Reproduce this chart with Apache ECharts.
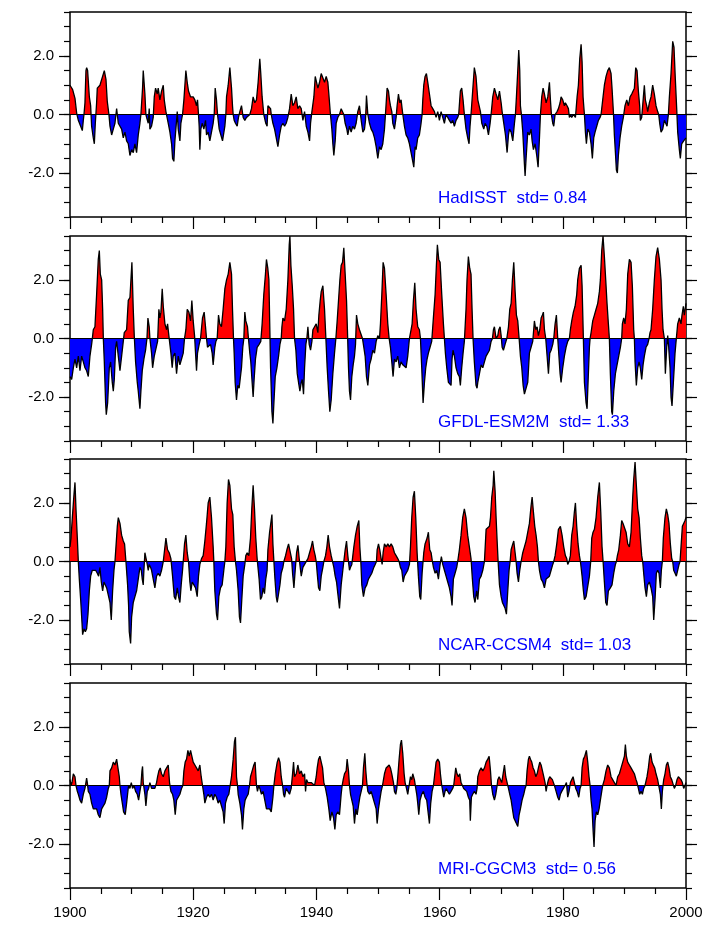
<!DOCTYPE html>
<html>
<head>
<meta charset="utf-8">
<script src="https://cdn.jsdelivr.net/npm/echarts@6/dist/echarts.min.js"></script>
<style>
html, body { margin: 0; padding: 0; background: #fff; }
#main { width: 708px; height: 930px; }
</style>
</head>
<body>
<div id="main"></div>
<script>
// anomaly series, [year, value]
var hadisst = [
[1900.00,1.0],[1900.43,0.85],[1900.81,0.55],[1901.08,0.05],[1901.35,-0.2],[1901.73,-0.4],[1902.00,-0.55],[1902.16,-0.2],[1902.27,0.0],[1902.43,0.4],
[1902.59,1.5],[1902.70,1.6],[1902.86,1.5],[1903.14,0.6],[1903.35,0.3],[1903.51,-0.4],[1903.78,-0.8],[1903.95,-1.0],[1904.11,-0.3],[1904.32,0.4],
[1904.43,0.9],[1904.86,1.0],[1905.57,1.5],[1905.84,1.2],[1906.05,0.45],[1906.32,0.0],[1906.49,-0.4],[1906.76,-0.7],[1907.03,-0.5],[1907.30,-0.3],
[1907.57,0.2],[1907.84,-0.3],[1908.38,-0.5],[1908.65,-0.8],[1908.92,-0.6],[1909.19,-0.9],[1909.46,-1.0],[1909.73,-1.4],[1910.00,-1.2],[1910.27,-1.3],
[1910.54,-1.0],[1910.81,-1.3],[1911.08,-0.7],[1911.35,-0.3],[1911.51,0.0],[1911.78,0.9],[1911.89,1.5],[1912.16,0.7],[1912.32,0.0],[1912.43,-0.1],
[1912.70,-0.3],[1912.86,0.2],[1912.97,-0.5],[1913.24,-0.4],[1913.51,-0.1],[1913.68,0.6],[1913.89,0.9],[1914.16,0.7],[1914.32,0.9],[1914.59,0.5],
[1914.86,0.8],[1915.14,1.0],[1915.30,0.5],[1915.57,0.1],[1915.95,-0.3],[1916.22,-0.6],[1916.49,-1.0],[1916.65,-1.5],[1916.86,-1.6],[1917.03,-0.9],
[1917.30,-0.2],[1917.41,0.1],[1917.57,-0.5],[1917.84,-0.9],[1918.00,-0.3],[1918.27,0.0],[1918.49,0.5],[1918.65,1.0],[1918.81,1.5],[1919.03,1.1],
[1919.24,0.8],[1919.57,0.6],[1920.00,0.6],[1920.27,0.5],[1920.54,0.3],[1920.70,0.5],[1920.86,0.0],[1920.97,-0.4],[1921.08,-1.2],[1921.24,-0.5],
[1921.46,-0.3],[1921.73,-0.5],[1922.00,-0.2],[1922.16,-0.7],[1922.43,-0.6],[1922.70,-0.9],[1922.97,-0.6],[1923.24,-0.3],[1923.41,0.0],[1923.57,0.9],
[1923.78,0.5],[1923.95,0.0],[1924.22,-0.5],[1924.49,-0.7],[1924.76,-0.9],[1924.97,-0.9],[1925.14,-0.4],[1925.30,0.0],[1925.41,0.6],[1925.68,1.0],
[1925.95,1.6],[1926.22,0.9],[1926.38,0.3],[1926.49,0.0],[1926.65,-0.2],[1926.86,-0.3],[1927.14,-0.4],[1927.35,-0.1],[1927.57,0.1],[1927.84,0.3],
[1928.11,-0.1],[1928.38,-0.2],[1928.65,-0.1],[1928.92,-0.05],[1929.19,0.0],[1929.46,0.2],[1929.73,0.6],[1930.00,0.4],[1930.27,0.5],[1930.54,1.1],
[1930.81,1.9],[1930.97,1.4],[1931.19,0.6],[1931.46,0.0],[1931.78,-0.3],[1932.00,-0.4],[1932.13,0.3],[1932.56,0.2],[1932.67,0.0],[1932.94,-0.3],
[1933.21,-0.5],[1933.48,-0.8],[1933.75,-1.1],[1934.02,-0.7],[1934.29,-0.4],[1934.56,-0.3],[1934.83,-0.4],[1935.10,-0.3],[1935.37,-0.1],[1935.64,0.2],
[1935.91,0.7],[1936.18,0.3],[1936.45,0.4],[1936.72,0.6],[1936.99,0.2],[1937.27,0.3],[1937.54,0.2],[1937.81,-0.2],[1938.08,0.1],[1938.35,-0.4],
[1938.62,-0.6],[1938.89,-0.9],[1939.05,-0.3],[1939.27,0.1],[1939.59,0.6],[1939.81,1.3],[1940.24,0.9],[1940.51,1.1],[1940.78,1.4],[1941.05,1.4],
[1941.32,1.1],[1941.59,1.3],[1941.86,1.1],[1942.02,0.7],[1942.24,0.1],[1942.51,-0.5],[1942.67,-1.0],[1942.83,-1.4],[1943.05,-0.9],[1943.21,-0.3],
[1943.48,-0.1],[1943.75,0.0],[1944.02,0.2],[1944.29,0.2],[1944.45,0.0],[1944.67,-0.3],[1944.94,-0.5],[1945.10,-0.7],[1945.37,-0.4],[1945.64,-0.6],
[1945.91,-0.4],[1946.18,-0.5],[1946.45,-0.3],[1946.72,0.1],[1946.99,0.3],[1947.27,-0.2],[1947.54,-0.6],[1947.81,-0.5],[1947.97,-0.2],[1948.13,0.65],
[1948.35,0.0],[1948.62,-0.3],[1948.89,-0.5],[1949.16,-0.6],[1949.43,-0.8],[1949.70,-1.1],[1949.97,-1.5],[1950.24,-1.1],[1950.51,-1.2],[1950.78,-1.0],
[1951.05,-0.5],[1951.21,0.0],[1951.48,0.9],[1951.70,0.8],[1951.86,0.5],[1952.02,0.3],[1952.24,0.1],[1952.40,-0.3],[1952.67,-0.5],[1952.94,-0.1],
[1953.10,0.3],[1953.32,0.7],[1953.54,0.4],[1953.75,0.5],[1953.97,0.1],[1954.29,-0.4],[1954.56,-0.7],[1954.83,-0.8],[1955.10,-1.0],[1955.37,-1.3],
[1955.64,-1.6],[1955.81,-1.8],[1956.02,-1.1],[1956.18,-1.2],[1956.45,-0.8],[1956.72,-0.7],[1956.99,-0.3],[1957.16,0.0],[1957.27,0.5],[1957.43,1.0],
[1957.64,1.3],[1957.86,1.4],[1958.08,1.1],[1958.35,0.7],[1958.62,0.3],[1958.89,0.2],[1959.16,0.1],[1959.43,-0.1],[1959.70,0.1],[1959.97,-0.2],
[1960.24,0.1],[1960.51,-0.1],[1960.78,-0.3],[1961.05,0.0],[1961.32,-0.1],[1961.59,-0.2],[1961.86,-0.3],[1962.13,-0.2],[1962.40,-0.4],[1962.67,-0.2],
[1962.94,-0.1],[1963.10,0.0],[1963.37,0.8],[1963.59,0.9],[1963.81,0.5],[1964.02,0.0],[1964.29,-0.5],[1964.56,-0.8],[1964.78,-1.0],[1964.94,-0.4],
[1965.10,0.0],[1965.37,0.8],[1965.64,1.6],[1965.91,1.3],[1966.20,0.5],[1966.63,0.1],[1966.85,-0.3],[1967.17,-0.5],[1967.39,-0.3],[1967.66,-0.4],
[1967.93,-0.7],[1968.20,-0.3],[1968.36,0.0],[1968.63,0.6],[1968.90,0.9],[1969.17,0.7],[1969.45,0.5],[1969.72,0.8],[1969.99,0.4],[1970.15,0.1],
[1970.42,-0.3],[1970.69,-0.7],[1970.96,-1.3],[1971.18,-0.7],[1971.34,-0.5],[1971.61,-0.6],[1971.88,-0.9],[1972.15,-0.3],[1972.31,0.0],[1972.47,0.6],
[1972.69,1.5],[1972.85,2.2],[1973.01,1.5],[1973.12,0.3],[1973.28,0.0],[1973.50,-0.6],[1973.77,-1.7],[1973.88,-2.1],[1974.04,-1.5],[1974.31,-0.6],
[1974.58,-0.7],[1974.85,-0.5],[1975.02,-0.9],[1975.23,-1.2],[1975.50,-1.0],[1975.77,-1.4],[1975.99,-1.8],[1976.21,-0.8],[1976.37,0.0],[1976.58,0.6],
[1976.80,0.9],[1977.02,0.7],[1977.29,0.4],[1977.56,0.6],[1977.83,1.1],[1977.99,0.5],[1978.15,0.0],[1978.37,-0.3],[1978.53,-0.4],[1978.75,0.0],
[1979.07,0.1],[1979.29,0.2],[1979.56,0.4],[1979.72,0.6],[1979.99,0.5],[1980.26,0.3],[1980.42,0.4],[1980.69,0.3],[1980.91,0.2],[1981.07,-0.1],
[1981.23,0.0],[1981.45,-0.1],[1981.72,0.0],[1981.88,0.0],[1982.05,-0.1],[1982.32,0.6],[1982.53,1.0],[1982.75,1.9],[1982.97,2.4],[1983.13,1.8],
[1983.29,0.6],[1983.51,0.0],[1983.67,-0.6],[1983.83,-1.0],[1984.05,-0.5],[1984.32,-0.6],[1984.59,-1.0],[1984.80,-1.5],[1985.02,-0.8],[1985.24,-0.6],
[1985.51,-0.4],[1985.78,-0.2],[1986.05,-0.1],[1986.21,0.0],[1986.48,0.5],[1986.75,1.0],[1987.02,1.3],[1987.29,1.5],[1987.56,1.6],[1987.83,1.4],
[1987.99,0.9],[1988.21,0.1],[1988.37,-0.7],[1988.54,-1.3],[1988.70,-1.9],[1988.86,-2.0],[1989.02,-1.4],[1989.29,-0.8],[1989.56,-0.4],[1989.83,-0.1],
[1990.10,0.3],[1990.38,0.5],[1990.65,0.3],[1990.92,0.6],[1991.19,0.7],[1991.40,0.7],[1991.62,0.9],[1991.84,1.6],[1992.05,1.5],[1992.27,0.8],
[1992.48,0.3],[1992.59,-0.2],[1992.81,-0.1],[1993.08,0.6],[1993.24,1.0],[1993.40,0.5],[1993.62,0.3],[1993.78,0.1],[1994.05,0.4],[1994.32,0.6],
[1994.59,1.0],[1994.86,0.7],[1995.13,0.3],[1995.40,0.1],[1995.57,0.0],[1995.73,-0.3],[1995.95,-0.6],[1996.22,-0.5],[1996.49,-0.2],[1996.76,-0.2],
[1996.92,-0.4],[1997.14,0.0],[1997.30,0.6],[1997.57,1.4],[1997.84,2.5],[1998.05,2.3],[1998.27,1.2],[1998.49,0.2],[1998.65,-0.6],[1998.92,-1.2],
[1999.08,-1.5],[1999.30,-1.0],[1999.62,-0.9],[1999.84,-0.9],[2000.00,-0.8]
];

var gfdl = [
[1900.00,-1.3],[1900.27,-1.4],[1900.54,-1.0],[1900.81,-0.7],[1901.08,-1.0],[1901.35,-0.6],[1901.62,-1.1],[1901.89,-0.6],[1902.16,-0.8],[1902.43,-1.0],
[1902.70,-1.1],[1902.97,-1.3],[1903.24,-0.6],[1903.51,-0.2],[1903.68,0.1],[1903.78,0.3],[1904.05,0.4],[1904.32,1.5],[1904.59,2.7],[1904.76,3.0],
[1904.92,2.2],[1905.14,2.0],[1905.30,1.0],[1905.41,0.0],[1905.57,-0.8],[1905.78,-2.2],[1905.89,-2.6],[1906.11,-2.2],[1906.38,-1.0],[1906.59,-0.8],
[1906.86,-1.5],[1907.03,-1.8],[1907.19,-1.4],[1907.41,-0.3],[1907.57,-0.1],[1907.84,-0.6],[1908.11,-1.1],[1908.38,-0.6],[1908.65,-0.1],[1908.81,0.2],
[1909.19,0.3],[1909.46,1.3],[1909.73,1.4],[1909.89,2.0],[1910.05,2.6],[1910.27,1.0],[1910.43,0.1],[1910.65,-0.8],[1910.92,-1.5],[1911.08,-1.8],
[1911.35,-2.4],[1911.51,-1.8],[1911.73,-1.1],[1912.00,-0.7],[1912.27,-0.4],[1912.49,0.0],[1912.65,0.7],[1912.86,0.4],[1912.97,0.0],[1913.24,-0.5],
[1913.41,-1.0],[1913.68,-0.6],[1913.95,-0.6],[1914.22,-0.1],[1914.43,1.0],[1914.59,0.7],[1914.76,0.9],[1914.97,1.7],[1915.14,1.1],[1915.41,0.5],
[1915.68,0.3],[1915.84,0.5],[1916.05,0.1],[1916.38,-0.5],[1916.59,-1.0],[1916.76,-0.6],[1917.03,-0.5],[1917.30,-1.2],[1917.57,-0.6],[1917.84,-0.9],
[1918.11,-0.7],[1918.38,-0.5],[1918.59,0.0],[1918.81,0.3],[1919.03,1.0],[1919.30,0.9],[1919.57,0.6],[1919.78,1.3],[1920.00,0.6],[1920.22,0.1],
[1920.38,-0.5],[1920.54,-1.1],[1920.70,-0.5],[1920.97,-0.2],[1921.19,0.0],[1921.51,0.7],[1921.78,0.9],[1922.00,0.4],[1922.16,0.0],[1922.32,-0.3],
[1922.54,-0.3],[1922.81,-0.2],[1923.08,-0.5],[1923.24,-0.9],[1923.51,-0.3],[1923.68,-0.1],[1923.89,0.0],[1924.11,0.8],[1924.32,0.5],[1924.59,0.4],
[1924.86,1.0],[1925.14,1.7],[1925.41,2.0],[1925.68,2.2],[1925.95,2.6],[1926.22,2.2],[1926.38,1.0],[1926.54,0.0],[1926.65,-0.5],[1926.81,-1.5],
[1927.03,-2.1],[1927.24,-1.6],[1927.46,-1.7],[1927.62,-1.4],[1927.84,-1.0],[1928.05,-0.3],[1928.22,0.0],[1928.38,0.9],[1928.54,0.6],[1928.81,0.4],
[1928.97,0.0],[1929.19,-0.5],[1929.35,-0.8],[1929.57,-1.5],[1929.73,-2.0],[1929.89,-1.4],[1930.11,-0.7],[1930.38,-0.3],[1930.70,-0.2],[1930.97,-0.1],
[1931.19,0.5],[1931.46,1.5],[1931.73,2.2],[1931.89,2.7],[1932.11,2.4],[1932.29,2.0],[1932.56,-1.0],[1932.78,-2.5],[1932.94,-2.9],[1933.10,-2.2],
[1933.32,-1.3],[1933.59,-1.0],[1933.86,-0.6],[1934.08,-0.2],[1934.29,0.0],[1934.40,0.4],[1934.56,0.7],[1934.83,0.6],[1935.10,1.0],[1935.37,2.0],
[1935.59,3.2],[1935.70,3.5],[1935.86,2.5],[1936.08,1.8],[1936.29,1.0],[1936.45,0.0],[1936.67,-0.4],[1936.89,-1.2],[1937.10,-1.5],[1937.32,-1.8],
[1937.54,-1.5],[1937.70,-1.4],[1937.91,-1.9],[1938.08,-1.0],[1938.29,-0.2],[1938.45,0.0],[1938.62,0.4],[1938.83,-0.2],[1939.05,-0.4],[1939.27,-0.1],
[1939.43,0.3],[1939.70,0.4],[1939.97,0.5],[1940.24,0.2],[1940.40,0.8],[1940.62,1.3],[1940.78,1.6],[1941.05,1.8],[1941.32,1.0],[1941.54,0.0],
[1941.75,-1.0],[1941.97,-1.8],[1942.18,-2.5],[1942.40,-2.1],[1942.67,-1.2],[1942.94,-0.5],[1943.16,0.0],[1943.37,0.6],[1943.59,1.3],[1943.81,2.0],
[1944.02,2.5],[1944.24,2.6],[1944.45,3.1],[1944.67,2.2],[1944.89,1.3],[1945.05,0.2],[1945.21,-1.0],[1945.37,-1.8],[1945.54,-2.1],[1945.75,-1.3],
[1945.97,-0.9],[1946.18,-0.6],[1946.35,-0.2],[1946.51,0.8],[1946.72,0.5],[1946.99,0.3],[1947.27,0.3],[1947.48,0.0],[1947.70,-0.3],[1947.91,-0.6],
[1948.13,-1.3],[1948.35,-1.6],[1948.62,-0.9],[1948.89,-0.7],[1949.16,-0.4],[1949.43,-0.5],[1949.70,-0.1],[1949.97,0.1],[1950.24,0.0],[1950.40,0.5],
[1950.62,1.5],[1950.83,2.6],[1951.05,2.4],[1951.32,1.5],[1951.59,0.5],[1951.81,0.0],[1952.02,-0.3],[1952.24,-0.8],[1952.45,-1.3],[1952.67,-0.7],
[1952.94,-0.8],[1953.21,-0.6],[1953.48,-1.0],[1953.75,-0.8],[1954.02,-0.9],[1954.29,-0.9],[1954.56,-1.0],[1954.83,-0.6],[1955.10,0.0],[1955.37,0.3],
[1955.54,0.5],[1955.75,1.3],[1955.97,1.9],[1956.18,1.0],[1956.45,0.4],[1956.72,0.3],[1956.89,0.0],[1957.10,-1.0],[1957.32,-2.2],[1957.54,-1.5],
[1957.75,-1.0],[1957.97,-0.7],[1958.18,-0.5],[1958.45,-0.3],[1958.72,-0.1],[1958.99,0.7],[1959.27,1.5],[1959.48,2.5],[1959.64,3.2],[1959.86,2.7],
[1960.08,2.6],[1960.35,1.5],[1960.62,0.5],[1960.78,0.0],[1960.94,-0.5],[1961.16,-1.0],[1961.43,-1.5],[1961.64,-1.5],[1961.86,-1.6],[1962.02,-0.7],
[1962.18,-0.4],[1962.40,-0.6],[1962.67,-1.0],[1962.94,-1.2],[1963.21,-1.3],[1963.37,-1.6],[1963.59,-1.0],[1963.81,-0.5],[1964.02,-0.1],[1964.29,1.0],
[1964.45,2.0],[1964.67,2.8],[1964.89,2.4],[1965.10,2.2],[1965.27,1.0],[1965.43,0.0],[1965.64,-0.8],[1965.91,-1.6],[1966.08,-1.7],[1966.20,-1.5],
[1966.47,-1.2],[1966.74,-0.9],[1967.01,-1.0],[1967.28,-0.8],[1967.55,-0.6],[1967.82,-0.6],[1968.09,-0.4],[1968.36,-0.1],[1968.58,0.0],[1968.74,0.3],
[1968.90,0.4],[1969.17,0.0],[1969.45,0.1],[1969.61,0.3],[1969.82,0.4],[1969.99,0.1],[1970.15,-0.3],[1970.36,-0.4],[1970.63,-0.2],[1970.91,0.0],
[1971.18,0.4],[1971.39,1.0],[1971.61,1.2],[1971.82,2.0],[1972.04,2.6],[1972.26,1.6],[1972.47,0.8],[1972.69,0.6],[1972.91,0.0],[1973.12,-0.6],
[1973.34,-1.0],[1973.56,-1.6],[1973.77,-1.9],[1974.04,-1.9],[1974.31,-1.5],[1974.58,-0.5],[1974.85,-0.3],[1975.12,-0.1],[1975.39,0.6],[1975.61,0.3],
[1975.83,0.4],[1976.04,0.1],[1976.26,0.3],[1976.48,0.7],[1976.69,0.8],[1976.85,0.9],[1977.02,0.3],[1977.23,0.0],[1977.45,-0.6],[1977.67,-1.2],
[1977.88,-0.5],[1978.10,-0.4],[1978.37,-0.2],[1978.53,0.0],[1978.75,0.5],[1978.96,0.8],[1979.18,0.0],[1979.34,-0.5],[1979.56,-1.2],[1979.72,-1.5],
[1979.99,-1.0],[1980.26,-0.6],[1980.53,-0.3],[1980.80,-0.1],[1981.07,0.0],[1981.23,0.3],[1981.45,0.6],[1981.72,0.9],[1981.99,1.1],[1982.26,1.5],
[1982.42,2.0],[1982.70,2.4],[1982.97,2.5],[1983.13,1.8],[1983.34,0.0],[1983.51,-1.5],[1983.78,-2.2],[1983.94,-2.4],[1984.10,-1.5],[1984.32,-0.3],
[1984.43,0.0],[1984.59,0.2],[1984.86,0.6],[1985.13,0.8],[1985.40,1.0],[1985.67,1.2],[1985.94,1.6],[1986.10,2.0],[1986.32,3.0],[1986.53,3.5],
[1986.75,2.8],[1986.97,2.0],[1987.18,1.2],[1987.40,0.5],[1987.56,0.0],[1987.72,-1.2],[1987.94,-2.5],[1988.05,-2.6],[1988.27,-1.8],[1988.54,-1.2],
[1988.81,-0.9],[1989.08,-0.6],[1989.35,-0.3],[1989.56,0.0],[1989.67,0.5],[1989.89,0.7],[1990.10,0.5],[1990.32,1.0],[1990.54,2.2],[1990.81,2.7],
[1991.08,2.6],[1991.29,1.8],[1991.51,0.3],[1991.62,0.0],[1991.73,-0.8],[1991.94,-1.6],[1992.16,-1.0],[1992.38,-0.8],[1992.59,-1.0],[1992.81,-1.4],
[1993.03,-0.9],[1993.24,-0.6],[1993.51,-0.3],[1993.78,-0.2],[1994.00,0.0],[1994.16,0.2],[1994.32,0.3],[1994.59,1.0],[1994.86,2.0],[1995.13,2.8],
[1995.40,3.1],[1995.68,2.7],[1995.95,2.0],[1996.11,1.0],[1996.27,0.3],[1996.49,0.0],[1996.65,-1.2],[1996.87,-0.3],[1997.03,0.1],[1997.19,-0.3],
[1997.41,-1.0],[1997.57,-2.0],[1997.73,-2.3],[1997.95,-1.5],[1998.22,-0.5],[1998.43,0.0],[1998.65,0.5],[1998.92,0.7],[1999.19,0.5],[1999.35,0.8],
[1999.57,1.1],[1999.73,0.8],[2000.00,1.2]
];

var ncar = [
[1900.00,0.5],[1900.16,0.8],[1900.38,1.5],[1900.65,2.3],[1900.81,2.7],[1900.97,1.8],[1901.19,0.8],[1901.35,0.0],[1901.51,-0.6],[1901.73,-1.3],
[1901.95,-2.1],[1902.05,-2.5],[1902.27,-2.3],[1902.49,-2.4],[1902.70,-2.3],[1902.92,-1.8],[1903.14,-1.0],[1903.35,-0.5],[1903.62,-0.3],[1903.89,-0.3],
[1904.16,-0.3],[1904.43,-0.4],[1904.65,-0.5],[1904.86,-0.2],[1905.08,-0.7],[1905.30,-1.0],[1905.51,-0.7],[1905.73,-0.8],[1905.95,-0.9],[1906.22,-0.9],
[1906.49,-1.4],[1906.70,-2.0],[1906.92,-1.0],[1907.14,-0.3],[1907.30,0.0],[1907.46,0.5],[1907.68,1.2],[1907.84,1.5],[1908.11,1.3],[1908.38,0.9],
[1908.65,0.7],[1908.86,0.6],[1909.08,0.0],[1909.35,-0.8],[1909.51,-1.5],[1909.62,-2.4],[1909.84,-2.8],[1910.00,-1.9],[1910.27,-1.4],[1910.54,-1.2],
[1910.81,-1.0],[1911.08,-0.6],[1911.35,-0.2],[1911.57,-0.3],[1911.73,-0.6],[1911.89,-0.8],[1912.00,-0.3],[1912.16,0.3],[1912.32,0.3],[1912.54,-0.1],
[1912.70,-0.3],[1912.86,-0.1],[1913.08,-0.2],[1913.24,-0.3],[1913.51,-0.6],[1913.78,-0.9],[1914.05,-0.5],[1914.32,-0.4],[1914.59,-0.5],[1914.86,-0.3],
[1915.14,0.0],[1915.41,0.5],[1915.57,0.8],[1915.84,0.4],[1916.11,0.3],[1916.38,0.1],[1916.65,-0.5],[1916.92,-1.2],[1917.14,-1.3],[1917.41,-0.9],
[1917.62,-1.2],[1917.84,-1.4],[1918.05,-0.8],[1918.27,-0.3],[1918.38,0.0],[1918.59,0.6],[1918.81,0.9],[1919.03,0.3],[1919.24,0.0],[1919.46,-0.7],
[1919.62,-1.0],[1919.84,-0.7],[1920.11,-0.8],[1920.38,-0.9],[1920.65,-1.2],[1920.86,-0.5],[1921.08,-0.1],[1921.35,0.1],[1921.62,0.2],[1921.89,0.7],
[1922.16,1.3],[1922.43,2.0],[1922.70,2.2],[1922.97,1.5],[1923.24,0.5],[1923.35,0.0],[1923.51,-1.0],[1923.78,-1.8],[1923.95,-2.0],[1924.16,-1.2],
[1924.43,-0.9],[1924.70,-0.8],[1924.97,-0.3],[1925.14,0.0],[1925.30,0.5],[1925.51,2.0],[1925.73,2.8],[1925.95,2.6],[1926.22,1.8],[1926.43,1.6],
[1926.65,0.5],[1926.86,0.0],[1927.03,-0.3],[1927.30,-1.0],[1927.51,-1.9],[1927.68,-2.1],[1927.89,-1.3],[1928.11,-0.5],[1928.38,-0.1],[1928.54,0.2],
[1928.76,0.3],[1929.03,0.2],[1929.30,0.8],[1929.51,1.8],[1929.73,2.6],[1929.95,1.8],[1930.16,0.8],[1930.38,0.1],[1930.70,-0.6],[1930.92,-1.3],
[1931.14,-1.2],[1931.35,-0.9],[1931.57,-1.1],[1931.78,-0.6],[1932.00,-0.3],[1932.13,0.4],[1932.40,1.0],[1932.78,1.6],[1932.94,0.6],[1933.10,0.0],
[1933.27,-0.6],[1933.48,-1.2],[1933.64,-1.4],[1933.86,-1.4],[1934.08,-0.8],[1934.29,-0.4],[1934.56,-0.2],[1934.72,0.0],[1934.99,0.2],[1935.21,0.4],
[1935.48,0.6],[1935.75,0.6],[1935.97,0.1],[1936.13,-0.4],[1936.35,-0.9],[1936.56,-0.3],[1936.78,0.3],[1937.00,0.55],[1937.21,0.1],[1937.37,-0.2],
[1937.54,-0.5],[1937.81,-0.2],[1938.08,-0.1],[1938.35,-0.1],[1938.62,0.1],[1938.89,0.3],[1939.16,0.5],[1939.37,0.7],[1939.59,0.4],[1939.81,0.2],
[1939.97,0.0],[1940.13,-0.4],[1940.35,-0.9],[1940.56,-1.0],[1940.78,-0.5],[1941.05,-0.2],[1941.21,0.0],[1941.48,0.2],[1941.70,0.5],[1941.91,0.9],
[1942.13,0.5],[1942.40,0.2],[1942.62,0.0],[1942.83,-0.2],[1943.05,-0.5],[1943.27,-0.7],[1943.48,-1.1],[1943.75,-1.6],[1944.02,-0.8],[1944.29,-0.3],
[1944.45,0.0],[1944.67,0.4],[1944.89,0.7],[1945.10,0.2],[1945.37,-0.3],[1945.54,-0.2],[1945.75,-0.1],[1946.08,0.5],[1946.35,0.9],[1946.62,1.2],
[1946.89,1.4],[1947.05,0.5],[1947.21,0.0],[1947.37,-0.8],[1947.64,-1.2],[1947.91,-0.9],[1948.18,-0.8],[1948.45,-0.6],[1948.72,-0.6],[1948.99,-0.4],
[1949.32,-0.2],[1949.54,-0.1],[1949.75,0.0],[1949.86,0.4],[1950.08,0.6],[1950.29,0.4],[1950.51,0.1],[1950.67,-0.1],[1950.83,0.3],[1951.05,0.6],
[1951.32,0.5],[1951.59,0.6],[1951.86,0.5],[1952.13,0.6],[1952.40,0.5],[1952.67,0.3],[1952.94,0.2],[1953.21,0.1],[1953.43,0.0],[1953.64,-0.2],
[1953.86,-0.3],[1954.08,-0.7],[1954.29,-0.5],[1954.56,-0.4],[1954.83,-0.3],[1955.10,-0.1],[1955.27,0.5],[1955.48,1.5],[1955.70,2.2],[1955.91,2.4],
[1956.13,1.5],[1956.35,0.3],[1956.56,-0.5],[1956.78,-1.2],[1956.94,-1.3],[1957.16,-0.4],[1957.43,0.3],[1957.64,0.6],[1957.97,0.8],[1958.18,1.0],
[1958.40,0.4],[1958.62,0.3],[1958.83,0.0],[1959.00,-0.2],[1959.27,-0.4],[1959.54,-0.3],[1959.81,-0.6],[1960.08,-0.1],[1960.29,0.17],[1960.51,-0.1],
[1960.78,-0.3],[1961.05,-0.5],[1961.32,-0.7],[1961.59,-0.9],[1961.86,-1.2],[1962.02,-1.5],[1962.24,-0.6],[1962.51,-0.4],[1962.78,-0.2],[1962.94,0.0],
[1963.21,0.4],[1963.48,0.9],[1963.75,1.5],[1964.02,1.8],[1964.29,1.5],[1964.56,0.9],[1964.83,0.5],[1965.10,0.1],[1965.32,-0.6],[1965.54,-1.2],
[1965.75,-1.4],[1966.02,-1.0],[1966.20,-1.3],[1966.47,-0.6],[1966.74,-0.5],[1967.01,-0.3],[1967.28,0.0],[1967.55,1.1],[1967.82,1.1],[1968.09,1.2],
[1968.26,1.5],[1968.47,2.2],[1968.69,2.6],[1968.80,3.1],[1969.01,2.4],[1969.17,1.5],[1969.34,0.7],[1969.50,0.0],[1969.72,-0.8],[1969.99,-1.2],
[1970.20,-1.4],[1970.42,-1.5],[1970.63,-1.6],[1970.85,-1.8],[1971.07,-1.0],[1971.28,-0.3],[1971.45,0.0],[1971.61,0.4],[1971.88,0.6],[1972.04,0.7],
[1972.26,0.3],[1972.42,0.0],[1972.58,-0.4],[1972.80,-0.7],[1973.01,-0.3],[1973.23,0.0],[1973.50,0.3],[1973.77,0.5],[1974.04,0.7],[1974.31,1.0],
[1974.58,1.3],[1974.85,1.9],[1975.02,2.2],[1975.23,1.7],[1975.45,1.2],[1975.66,0.9],[1975.88,0.5],[1976.04,0.0],[1976.21,-0.3],[1976.48,-0.6],
[1976.75,-0.7],[1977.02,-0.9],[1977.29,-0.6],[1977.56,-0.6],[1977.83,-0.5],[1978.10,-0.3],[1978.37,-0.1],[1978.53,0.0],[1978.75,0.2],[1979.02,0.6],
[1979.29,1.1],[1979.61,1.2],[1979.88,0.9],[1980.15,0.5],[1980.42,0.2],[1980.64,0.1],[1980.80,-0.1],[1981.02,0.0],[1981.23,0.2],[1981.45,0.9],
[1981.67,1.2],[1981.88,1.7],[1982.05,2.0],[1982.26,1.2],[1982.48,0.6],[1982.70,0.2],[1982.86,0.0],[1983.13,-0.5],[1983.34,-1.0],[1983.51,-1.3],
[1983.78,-1.2],[1984.05,-1.2],[1984.32,-0.5],[1984.53,0.0],[1984.70,0.8],[1984.91,1.0],[1985.13,1.1],[1985.40,1.5],[1985.67,2.2],[1985.94,2.7],
[1986.16,1.7],[1986.37,0.5],[1986.54,0.0],[1986.75,-0.7],[1986.97,-1.4],[1987.18,-1.5],[1987.40,-1.0],[1987.72,-0.9],[1987.99,-0.8],[1988.27,-0.4],
[1988.54,-0.1],[1988.70,0.0],[1988.86,0.2],[1989.08,0.4],[1989.35,0.9],[1989.56,1.4],[1989.78,1.3],[1990.00,1.3],[1990.27,1.0],[1990.54,0.6],
[1990.81,0.5],[1991.08,1.0],[1991.35,2.2],[1991.51,2.8],[1991.73,3.4],[1991.94,2.6],[1992.16,1.8],[1992.38,1.5],[1992.59,0.8],[1992.81,0.2],
[1992.97,0.0],[1993.13,-0.4],[1993.35,-0.9],[1993.57,-1.2],[1993.78,-0.8],[1994.05,-0.7],[1994.32,-0.9],[1994.59,-1.2],[1994.76,-2.0],[1994.97,-1.3],
[1995.19,-0.4],[1995.40,-0.3],[1995.62,-0.4],[1995.84,-0.9],[1996.00,-0.3],[1996.16,0.0],[1996.32,0.8],[1996.59,1.5],[1996.81,1.8],[1997.03,1.6],
[1997.24,1.3],[1997.46,0.6],[1997.68,0.1],[1997.84,0.0],[1998.00,-0.3],[1998.22,-0.4],[1998.43,-0.5],[1998.65,-0.3],[1998.87,-0.1],[1999.03,0.0],
[1999.19,0.5],[1999.41,1.2],[1999.62,1.3],[1999.84,1.4],[2000.00,1.5]
];

var mri = [
[1900.00,0.2],[1900.16,0.0],[1900.32,0.1],[1900.54,0.4],[1900.81,0.3],[1900.97,0.0],[1901.19,-0.2],[1901.35,-0.3],[1901.62,-0.5],[1901.89,-0.6],
[1902.16,-0.3],[1902.43,-0.1],[1902.70,0.25],[1902.81,0.1],[1902.97,-0.2],[1903.24,-0.3],[1903.51,-0.6],[1903.78,-0.8],[1904.05,-0.8],[1904.32,-0.8],
[1904.59,-1.0],[1904.86,-1.1],[1905.14,-0.8],[1905.41,-0.7],[1905.68,-0.6],[1905.95,-0.4],[1906.22,-0.1],[1906.38,0.0],[1906.49,0.5],[1906.76,0.6],
[1907.03,0.8],[1907.30,0.7],[1907.57,0.9],[1907.84,0.9],[1908.00,0.3],[1908.11,0.0],[1908.27,-0.3],[1908.49,-0.6],[1908.70,-0.9],[1908.97,-1.0],
[1909.19,-0.6],[1909.35,-0.3],[1909.51,0.0],[1909.73,-0.1],[1909.95,0.1],[1910.16,-0.1],[1910.38,0.0],[1910.65,-0.2],[1910.92,-0.3],[1911.14,-0.5],
[1911.35,-0.2],[1911.51,0.0],[1911.68,0.5],[1911.78,0.65],[1911.89,0.1],[1912.16,-0.3],[1912.32,-0.7],[1912.54,-0.2],[1912.76,-0.1],[1912.97,0.1],
[1913.24,-0.1],[1913.51,-0.1],[1913.78,-0.1],[1914.05,0.1],[1914.22,0.3],[1914.43,0.5],[1914.65,0.6],[1914.86,0.4],[1915.14,0.3],[1915.41,0.5],
[1915.68,0.6],[1915.95,0.7],[1916.16,0.1],[1916.38,-0.2],[1916.65,-0.3],[1916.86,-0.5],[1917.08,-1.0],[1917.30,-0.5],[1917.57,-0.4],[1917.84,-0.3],
[1918.11,-0.1],[1918.32,0.0],[1918.49,0.5],[1918.70,0.8],[1918.92,0.9],[1919.14,1.2],[1919.35,1.0],[1919.57,1.2],[1919.78,1.0],[1920.00,0.8],
[1920.27,0.7],[1920.54,0.6],[1920.81,0.5],[1921.08,0.7],[1921.30,0.3],[1921.51,0.0],[1921.73,-0.3],[1921.89,-0.6],[1922.16,-0.4],[1922.43,-0.3],
[1922.70,-0.4],[1922.97,-0.3],[1923.24,-0.5],[1923.51,-0.3],[1923.78,-0.4],[1924.05,-0.6],[1924.32,-0.5],[1924.59,-0.7],[1924.86,-0.9],[1925.03,-1.3],
[1925.24,-0.6],[1925.51,-0.4],[1925.78,-0.3],[1926.00,0.0],[1926.22,0.3],[1926.49,0.9],[1926.70,1.5],[1926.86,1.65],[1927.03,0.3],[1927.19,0.0],
[1927.30,-0.3],[1927.57,-0.6],[1927.84,-1.0],[1928.00,-1.5],[1928.22,-0.8],[1928.43,-0.5],[1928.65,-0.4],[1928.92,-0.3],[1929.14,0.0],[1929.30,0.3],
[1929.57,0.5],[1929.84,0.7],[1930.05,0.8],[1930.27,0.0],[1930.43,-0.2],[1930.65,0.0],[1930.81,-0.1],[1931.08,-0.3],[1931.35,-0.2],[1931.62,-0.5],
[1931.89,-0.8],[1932.13,-0.8],[1932.40,-0.8],[1932.67,-0.9],[1932.94,-0.4],[1933.10,0.0],[1933.32,0.4],[1933.64,0.8],[1933.86,0.95],[1934.08,0.8],
[1934.29,0.3],[1934.51,0.0],[1934.67,-0.3],[1934.83,-0.4],[1935.10,-0.1],[1935.37,-0.2],[1935.64,-0.3],[1935.91,-0.1],[1936.13,0.4],[1936.29,0.8],
[1936.45,0.3],[1936.72,0.4],[1936.99,0.7],[1937.27,0.4],[1937.54,0.5],[1937.81,0.3],[1938.08,0.4],[1938.24,-0.2],[1938.40,0.2],[1938.62,0.1],
[1938.89,0.1],[1939.16,0.1],[1939.43,0.05],[1939.70,0.0],[1939.97,0.3],[1940.13,0.6],[1940.35,0.9],[1940.56,1.0],[1940.78,1.0],[1941.00,0.6],
[1941.21,0.1],[1941.48,-0.1],[1941.75,-0.4],[1942.02,-0.8],[1942.24,-1.2],[1942.51,-0.9],[1942.78,-1.1],[1943.00,-1.5],[1943.21,-1.0],[1943.48,-0.9],
[1943.75,-1.0],[1944.02,-0.3],[1944.18,0.0],[1944.35,0.2],[1944.56,0.4],[1944.83,0.5],[1944.99,0.9],[1945.21,0.5],[1945.37,0.0],[1945.54,-0.3],
[1945.75,-0.5],[1945.97,-0.7],[1946.18,-1.3],[1946.40,-0.8],[1946.62,-1.0],[1946.83,-0.7],[1947.05,-0.4],[1947.27,-0.2],[1947.48,0.0],[1947.64,0.6],
[1947.86,1.1],[1948.02,0.5],[1948.18,0.1],[1948.35,-0.2],[1948.62,-0.3],[1948.89,-0.2],[1949.16,-0.4],[1949.43,-0.6],[1949.70,-0.8],[1949.86,-1.3],
[1950.08,-0.8],[1950.29,-0.5],[1950.51,-0.2],[1950.73,0.0],[1950.89,0.2],[1951.05,0.4],[1951.32,0.6],[1951.59,0.6],[1951.81,0.7],[1952.02,0.6],
[1952.24,0.4],[1952.51,0.1],[1952.67,-0.2],[1952.89,-0.3],[1953.05,-0.1],[1953.21,0.3],[1953.43,0.9],[1953.64,1.4],[1953.81,1.55],[1954.02,1.1],
[1954.24,0.4],[1954.40,0.1],[1954.62,-0.1],[1954.83,-0.3],[1955.05,0.0],[1955.27,0.3],[1955.48,0.2],[1955.64,0.4],[1955.91,0.2],[1956.13,-0.1],
[1956.29,-0.3],[1956.45,-0.6],[1956.62,-1.0],[1956.83,-0.5],[1957.10,-0.3],[1957.37,-0.2],[1957.64,-0.4],[1957.91,-0.5],[1958.18,-1.0],[1958.35,-1.3],
[1958.56,-0.6],[1958.78,-0.2],[1959.00,0.0],[1959.16,0.3],[1959.43,0.8],[1959.70,0.9],[1959.97,0.8],[1960.13,0.4],[1960.35,0.0],[1960.51,-0.2],
[1960.67,-0.4],[1960.89,-0.2],[1961.10,-0.1],[1961.32,-0.2],[1961.59,-0.3],[1961.86,-0.2],[1962.13,-0.1],[1962.29,0.0],[1962.40,0.2],[1962.62,0.6],
[1962.83,0.4],[1963.05,0.3],[1963.27,0.4],[1963.48,0.1],[1963.70,0.0],[1963.91,-0.1],[1964.13,-0.05],[1964.40,-0.2],[1964.67,-0.4],[1964.89,-0.5],
[1964.99,-1.2],[1965.16,-0.4],[1965.37,-0.3],[1965.64,-0.2],[1965.91,-0.3],[1966.08,-0.1],[1966.20,0.3],[1966.47,0.5],[1966.74,0.6],[1967.01,0.5],
[1967.28,0.6],[1967.55,0.8],[1967.82,0.9],[1968.04,1.0],[1968.26,0.5],[1968.42,0.0],[1968.63,-0.3],[1968.90,-0.5],[1969.12,-0.3],[1969.34,0.0],
[1969.45,0.2],[1969.66,0.3],[1969.88,0.2],[1970.09,0.1],[1970.31,0.4],[1970.53,0.7],[1970.74,0.3],[1970.96,0.1],[1971.18,-0.1],[1971.39,-0.3],
[1971.61,-0.5],[1971.82,-0.8],[1972.04,-1.1],[1972.26,-1.2],[1972.47,-1.3],[1972.69,-1.4],[1972.91,-1.0],[1973.12,-0.8],[1973.39,-0.5],[1973.66,-0.3],
[1973.88,-0.1],[1974.04,0.0],[1974.20,0.5],[1974.42,0.9],[1974.58,1.0],[1974.75,0.9],[1974.96,0.8],[1975.18,0.6],[1975.39,0.5],[1975.61,0.3],
[1975.83,0.4],[1976.04,0.6],[1976.26,0.8],[1976.48,0.7],[1976.75,0.7],[1976.91,0.3],[1977.12,0.1],[1977.29,-0.2],[1977.45,0.0],[1977.67,0.2],
[1977.88,0.3],[1978.10,0.3],[1978.31,0.2],[1978.64,0.0],[1978.91,-0.2],[1979.18,-0.4],[1979.40,-0.5],[1979.61,-0.3],[1979.83,-0.2],[1980.10,-0.1],
[1980.37,0.0],[1980.59,0.1],[1980.80,-0.4],[1981.02,-0.2],[1981.23,0.1],[1981.45,0.2],[1981.67,0.3],[1981.88,0.1],[1982.10,-0.1],[1982.32,-0.2],
[1982.59,-0.4],[1982.80,-0.1],[1982.97,0.0],[1983.13,0.6],[1983.34,0.9],[1983.56,1.0],[1983.83,1.2],[1984.05,0.8],[1984.26,0.3],[1984.43,0.0],
[1984.59,-0.5],[1984.75,-0.8],[1984.91,-1.5],[1985.07,-2.1],[1985.24,-1.2],[1985.45,-0.9],[1985.67,-1.0],[1985.89,-0.8],[1986.10,-0.5],[1986.32,-0.2],
[1986.48,0.0],[1986.75,0.2],[1987.02,0.5],[1987.29,0.7],[1987.56,0.6],[1987.83,0.3],[1988.10,0.3],[1988.37,0.1],[1988.64,0.0],[1988.91,0.3],
[1989.19,0.4],[1989.46,0.6],[1989.73,0.8],[1990.00,1.0],[1990.16,1.4],[1990.32,1.0],[1990.54,0.8],[1990.81,0.7],[1991.08,0.6],[1991.35,0.5],
[1991.62,0.4],[1991.89,0.2],[1992.05,0.1],[1992.27,-0.1],[1992.48,-0.3],[1992.70,-0.2],[1992.92,-0.3],[1993.13,-0.1],[1993.35,0.0],[1993.67,0.3],
[1993.89,0.6],[1994.11,1.0],[1994.27,1.1],[1994.49,0.8],[1994.70,0.7],[1994.92,0.6],[1995.13,0.4],[1995.40,0.2],[1995.57,0.0],[1995.84,-0.3],
[1996.00,-0.8],[1996.16,-0.2],[1996.38,0.2],[1996.59,0.4],[1996.81,0.7],[1997.03,0.8],[1997.24,0.6],[1997.46,0.3],[1997.68,0.2],[1997.89,0.2],
[1998.11,-0.1],[1998.32,0.0],[1998.54,0.2],[1998.76,0.3],[1998.97,0.3],[1999.19,0.2],[1999.41,0.1],[1999.62,-0.1],[1999.84,0.0],[2000.00,0.1]
];

var models = ['HadISST', 'GFDL-ESM2M', 'NCAR-CCSM4', 'MRI-CGCM3'];
var stds = ['0.84', '1.33', '1.03', '0.56'];
var yMajor = [-2, 0, 2];
var yMinor = [-3.5, -3, -2.5, -2, -1.5, -1, -0.5, 0, 0.5, 1, 1.5, 2, 2.5, 3, 3.5];

var panels = [hadisst, gfdl, ncar, mri];
var panelTops = [12, 236, 459, 683];
var panelHeight = 205;
var font = 'Liberation Sans';

var myChart = echarts.init(document.getElementById('main'));

var grids = [], xAxes = [], yAxes = [], series = [], titles = [], areaIdx = [];

function yAxis(i, pos, ticks, len, labels) {
    return {
        type: 'value', gridIndex: i, position: pos, min: -3.5, max: 3.5,
        axisLine: { show: false },
        splitLine: { show: false },
        axisTick: { show: true, length: len, customValues: ticks, lineStyle: { color: '#000', width: 1.2 } },
        axisLabel: {
            show: labels, customValues: yMajor, margin: 16, color: '#000', fontSize: 15, fontFamily: font,
            formatter: function (v) { return v.toFixed(1); }
        }
    };
}

panels.forEach(function (data, i) {
    grids.push({
        left: 70, right: 22, top: panelTops[i], height: panelHeight,
        show: true, borderColor: '#000', borderWidth: 1.5, backgroundColor: 'transparent'
    });
    xAxes.push({
        type: 'value', gridIndex: i, min: 1900, max: 2000, interval: 20,
        axisLine: { show: false, onZero: false },
        splitLine: { show: false },
        axisTick: { show: true, length: 12, lineStyle: { color: '#000', width: 1.2 } },
        minorTick: { show: true, splitNumber: 4, length: 6, lineStyle: { color: '#000', width: 1.2 } },
        axisLabel: { show: i === 3, margin: 17, color: '#000', fontSize: 15, fontFamily: font,
            formatter: function (v) { return String(v); } }
    });
    yAxes.push(yAxis(i, 'left', yMajor, 11, true));
    yAxes.push(yAxis(i, 'left', yMinor, 6, false));
    yAxes.push(yAxis(i, 'right', yMajor, 11, false));
    yAxes.push(yAxis(i, 'right', yMinor, 6, false));

    // red / blue fill
    areaIdx.push(series.length);
    series.push({
        type: 'line', xAxisIndex: i, yAxisIndex: 4 * i, data: data,
        symbol: 'none', silent: true, z: 2,
        lineStyle: { width: 0 },
        areaStyle: { opacity: 1, origin: 0 }
    });
    // black outline + zero line
    series.push({
        type: 'line', xAxisIndex: i, yAxisIndex: 4 * i, data: data,
        symbol: 'none', silent: true, z: 3,
        lineStyle: { color: '#000', width: 1.3 },
        markLine: {
            symbol: 'none', silent: true, label: { show: false },
            lineStyle: { color: '#000', width: 1.2, type: 'solid' },
            data: [{ yAxis: 0 }]
        }
    });

    titles.push({
        text: models[i] + '  std= ' + stds[i],
        left: 438, top: panelTops[i] + 176, padding: 0,
        textStyle: { color: '#0000ff', fontSize: 17, fontWeight: 'normal', fontFamily: font, lineHeight: 20 }
    });
});

var option = {
    animation: false,
    backgroundColor: '#fff',
    title: titles,
    grid: grids,
    xAxis: xAxes,
    yAxis: yAxes,
    visualMap: {
        show: false, seriesIndex: areaIdx, dimension: 1,
        pieces: [
            { gte: -10, lt: 0, color: '#0000ff' },
            { gte: 0, lte: 10, color: '#ff0000' }
        ]
    },
    series: series
};
myChart.setOption(option);
</script>
</body>
</html>
